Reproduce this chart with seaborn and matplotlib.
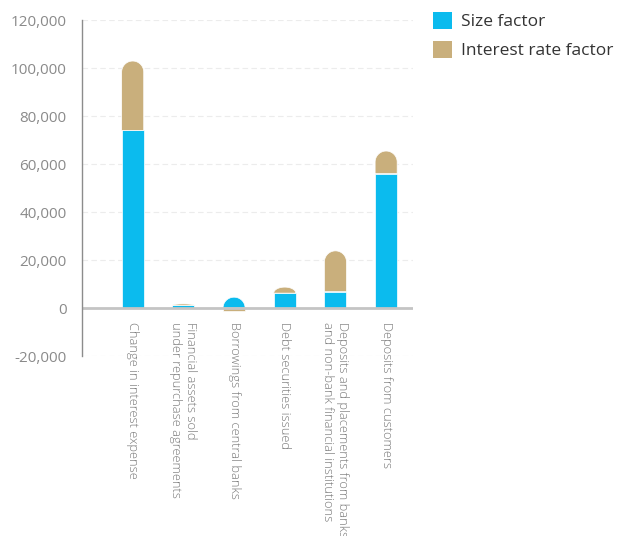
import numpy as np
import pandas as pd
import seaborn as sns
import matplotlib.pyplot as plt
from matplotlib.path import Path
from matplotlib.patches import Patch, PathPatch
from matplotlib.ticker import FuncFormatter, MultipleLocator

categories = [
    "Change in interest expense",
    "Financial assets sold\nunder repurchase agreements",
    "Borrowings from central banks",
    "Debt securities issued",
    "Deposits and placements from banks\nand non-bank financial institutions",
    "Deposits from customers",
]
size_factor = [74000, 1100, 4500, 6200, 6800, 56000]
rate_factor = [28900, 600, -1200, 2500, 17000, 9400]
series_names = ["Size factor", "Interest rate factor"]

BLUE = "#0BBBEE"
TAN = "#C9AF7C"
GREY_TXT = "#8a8a8a"

sns.set_style("white")
plt.rcParams["font.family"] = ["Open Sans", "DejaVu Sans"]

df = pd.DataFrame({"category": categories, "size": size_factor, "rate": rate_factor})
# positive values stack on top of the size bar, negative ones hang below zero
df["rate_base"] = np.where(df["rate"] >= 0, df["size"].clip(lower=0), 0)

fig = plt.figure(figsize=(6.2, 5.36), dpi=100)
ax = fig.add_axes([82 / 620, 1 - 356 / 536, (413 - 82) / 620, (356 - 20) / 536])

bar_kw = dict(width=0.435, saturation=1, errorbar=None, edgecolor="white", linewidth=0.5)
sns.barplot(data=df, x="category", y="size", color=BLUE, ax=ax, **bar_kw)
sns.barplot(data=df, x="category", y="rate", bottom=df["rate_base"].to_numpy(),
            color=TAN, ax=ax, **bar_kw)

ax.set_ylim(-20000, 120000)
ax.set_xlim(-1.0, 5.53)
ax.yaxis.set_major_locator(MultipleLocator(20000))
ax.yaxis.set_major_formatter(FuncFormatter(lambda v, _: f"{int(v):,}"))

ax.set_xlabel("")
ax.set_ylabel("")
for side in ["top", "right", "bottom"]:
    ax.spines[side].set_visible(False)
ax.spines["left"].set_color("#8c8c8c")
ax.spines["left"].set_linewidth(1.0)

ax.grid(axis="y", color="#ececec", linestyle=(0, (5, 3)), linewidth=0.8)
ax.grid(axis="x", visible=False)
ax.set_axisbelow(True)
ax.axhline(0, color="#c4c4c4", linewidth=2, zorder=1.5)

ax.tick_params(axis="y", length=6, width=1, color="#8c8c8c", labelcolor=GREY_TXT,
               labelsize=11, pad=5)
ax.set_xticks(range(len(categories)))
ax.set_xticklabels(categories, rotation=-90, ha="center", va="top",
                   multialignment="left", fontsize=9.3, color="#777777",
                   fontweight="light")
ax.tick_params(axis="x", length=0, pad=-24.5)

# the highest segment of each stack gets a rounded cap
n = len(categories)
blue_bars = ax.patches[:n]
tan_bars = ax.patches[n:2 * n]
inv = ax.transData.inverted()
for i in range(n):
    bar = tan_bars[i] if rate_factor[i] > 0 else blue_bars[i]
    x0, y0 = bar.get_x(), bar.get_y()
    w, h = bar.get_width(), bar.get_height()
    (px0, py0) = ax.transData.transform((x0, y0))
    (px1, py1) = ax.transData.transform((x0 + w, y0 + h))
    r = (px1 - px0) / 2
    ry = min(r, abs(py1 - py0))
    cx = (px0 + px1) / 2
    t = np.linspace(np.pi, 0, 60)
    arc = np.column_stack([cx + r * np.cos(t), py1 - ry + ry * np.sin(t)])
    verts = np.vstack([[px0, py0], [px0, py1 - ry], arc, [px1, py1 - ry], [px1, py0], [px0, py0]])
    codes = [Path.MOVETO] + [Path.LINETO] * (len(verts) - 2) + [Path.CLOSEPOLY]
    cap = PathPatch(Path(inv.transform(verts), codes), facecolor=bar.get_facecolor(),
                    edgecolor="white", linewidth=0.5, zorder=bar.get_zorder())
    ax.add_patch(cap)
    bar.set_visible(False)

handles = [Patch(facecolor=BLUE, edgecolor="none"), Patch(facecolor=TAN, edgecolor="none")]
fig.legend(handles, series_names, loc="upper left", bbox_to_anchor=(433 / 620, 1 - 12 / 536),
           frameon=False, fontsize=12.5, handlelength=1.1, handleheight=1.1,
           handletextpad=0.5, labelspacing=0.62, borderpad=0, borderaxespad=0,
           labelcolor="#333333")

fig.savefig("out.png", dpi=100)
